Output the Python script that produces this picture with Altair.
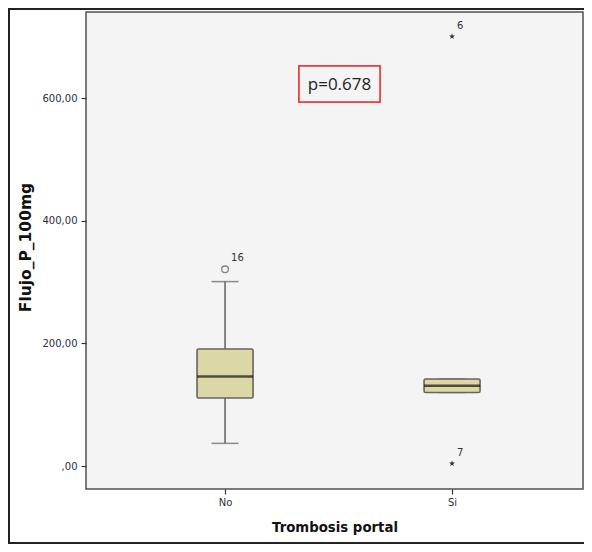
import altair as alt
import pandas as pd

# ---- data ----
groups = ["No", "Si"]
q1 = [111, 120]
median = [146, 131]
q3 = [191, 142]
whisk_lo = [37, 120]
whisk_hi = [301, 142]

outlier_group = ["No"]
outlier_value = [321]
outlier_label = ["16"]

extreme_group = ["Si", "Si"]
extreme_value = [701, 4]
extreme_label = ["6", "7"]

y_ticks = [0, 200, 400, 600]
p_text = "p=0.678"

box_df = pd.DataFrame({"g": groups, "q1": q1, "med": median, "q3": q3,
                       "lo": whisk_lo, "hi": whisk_hi})
out_df = pd.DataFrame({"g": outlier_group, "v": outlier_value, "lab": outlier_label})
ext_df = pd.DataFrame({"g": extreme_group, "v": extreme_value, "lab": extreme_label})

W, H = 497, 477
FONT = "DejaVu Sans"

xenc = alt.X("g:N", sort=groups,
             scale=alt.Scale(type="point", padding=0.5947, align=0.515),
             axis=alt.Axis(title="Trombosis portal", labelAngle=0))
yscale = alt.Scale(domain=[-37.5, 741], nice=False, zero=False)
yenc_axis = alt.Axis(title="Flujo_P_100mg", values=y_ticks,
                     labelExpr="datum.value == 0 ? ',00' : format(datum.value, 'd') + ',00'",
                     grid=False, titleY=235, titleFontSize=15.5)

base = alt.Chart(box_df)

whisk = base.mark_rule(color="#606060", strokeWidth=1.5).encode(
    x=xenc,
    y=alt.Y("lo:Q", scale=yscale, axis=yenc_axis),
    y2="hi:Q",
)
caps_lo = base.mark_tick(color="#606060", size=27, thickness=1.5).encode(
    x=alt.X("g:N", sort=groups), y=alt.Y("lo:Q"))
caps_hi = base.mark_tick(color="#606060", size=27, thickness=1.5).encode(
    x=alt.X("g:N", sort=groups), y=alt.Y("hi:Q"))
box = base.mark_bar(size=56, fill="#dcd7a6", stroke="#66665c", strokeWidth=1.6,
                    cornerRadius=1.5).encode(
    x=alt.X("g:N", sort=groups), y=alt.Y("q1:Q"), y2="q3:Q")
med = base.mark_tick(color="#111111", size=56, thickness=2.5).encode(
    x=alt.X("g:N", sort=groups), y=alt.Y("med:Q"))

circ = alt.Chart(out_df).mark_point(shape="circle", size=45, filled=False,
                                    color="#555555", strokeWidth=1.3).encode(
    x=alt.X("g:N", sort=groups), y=alt.Y("v:Q"))
circ_lab = alt.Chart(out_df).mark_text(align="left", dx=6, dy=-11, font=FONT,
                                       fontSize=10, color="#333333").encode(
    x=alt.X("g:N", sort=groups), y=alt.Y("v:Q"), text="lab:N")

star_path = ("M0,-1L0.225,-0.309L0.951,-0.309L0.363,0.118L0.588,0.809L0,0.382"
             "L-0.588,0.809L-0.363,0.118L-0.951,-0.309L-0.225,-0.309Z")
stars = alt.Chart(ext_df).mark_point(shape=star_path, size=40, filled=True,
                                     color="#333333", opacity=1).encode(
    x=alt.X("g:N", sort=groups), y=alt.Y("v:Q"))
star_lab = alt.Chart(ext_df).mark_text(align="left", dx=5, dy=-11, font=FONT,
                                       fontSize=10, color="#333333").encode(
    x=alt.X("g:N", sort=groups), y=alt.Y("v:Q"), text="lab:N")

# annotation box (decoration)
pbox = alt.Chart(box_df).mark_rect(fill="#f4f4f4", stroke="#e83535", strokeWidth=1.5).encode(
    x=alt.value(213), x2=alt.value(294), y=alt.value(54), y2=alt.value(90))
ptext = alt.Chart(pd.DataFrame({"t": [p_text]})).mark_text(
    font="Open Sans", fontSize=17, color="#222222", align="center", baseline="middle").encode(
    x=alt.value(253.5), y=alt.value(73), text="t:N")

# outer frame (decoration)
frame = alt.Chart(box_df).mark_rect(fill=None, stroke="#222222", strokeWidth=2).encode(
    x=alt.value(-77), x2=alt.value(530), y=alt.value(-3), y2=alt.value(H + 54))

chart = alt.layer(frame, whisk, caps_lo, caps_hi, box, med, circ, circ_lab, stars, star_lab,
                  pbox, ptext).properties(
    width=W, height=H,
    autosize="none",
    padding={"left": 78, "top": 4, "right": 1, "bottom": 55},
    background="white",
).configure_view(
    fill="#f4f4f4", stroke="#505050", strokeWidth=1.5
).configure_axis(
    domain=False, tickColor="#333333", tickSize=5, tickWidth=1.2,
    labelFont=FONT, labelFontSize=10, labelColor="#2e2e40", labelPadding=4,
    titleFont=FONT, titleFontSize=13.3, titleFontWeight="bold", titleColor="#111111",
).configure_axisY(titlePadding=9).configure_axisX(titlePadding=13, labelPadding=3)

chart.save("out.html", embed_options={"renderer": "svg", "actions": False})
